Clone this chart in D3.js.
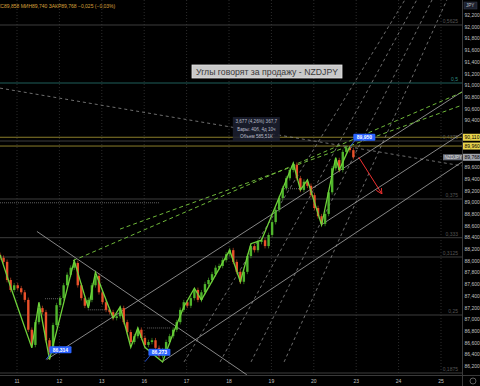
<!DOCTYPE html>
<html>
<head>
<meta charset="utf-8">
<script src="https://cdn.jsdelivr.net/npm/d3@7"></script>
<style>
  html, body { margin: 0; padding: 0; background: #000; }
  svg { display: block; font-family: "Liberation Sans", Arial, sans-serif; }
</style>
</head>
<body>
<script>
// --- data ---
const dayLabels = ['11', '12', '13', '16', '17', '18', '19', '20', '23', '24', '25']
const priceTicks = [86.2, 86.4, 86.6, 86.8, 87.0, 87.2, 87.4, 87.6, 87.8, 88.0, 88.2, 88.4, 88.6,
  88.8, 89.0, 89.2, 89.4, 89.6, 89.8, 90.0, 90.2, 90.4, 90.6, 90.8, 91.0, 91.2, 91.4, 91.6, 91.8, 92.0, 92.2]
const fibLevels = [0.5625, 0.5, 0.4375, 0.375, 0.3333, 0.3125, 0.25, 0.1875]
const fibLabels = ['0,5625', '0,5', '0,4375', '0,375', '0,333', '0,3125', '0,25', '0,1875']

// 2h closes, starting Fri 10th 14:00
const closes = [88.05, 87.98, 87.67, 87.50, 87.58, 87.53, 87.46, 87.33, 86.82, 86.56,
  86.95, 87.19, 87.12, 86.64, 86.44, 86.90, 87.24, 87.36, 87.58, 87.76,
  87.88, 87.96, 87.58, 87.36, 87.23, 87.33, 87.58, 87.74, 87.46, 87.29,
  87.16, 87.12, 87.02, 87.05, 87.19, 86.95, 86.78, 86.61, 86.71, 86.82,
  86.68, 86.56, 86.61, 86.64, 86.51, 86.37, 86.47, 86.61, 86.71, 86.82,
  86.95, 87.16, 87.29, 87.23, 87.36, 87.50, 87.33, 87.46, 87.60, 87.67,
  87.77, 87.88, 87.91, 88.01, 88.11, 88.18, 87.98, 87.81, 87.64, 87.81,
  88.08, 88.25, 88.18, 88.32, 88.35, 88.25, 88.44, 88.66, 88.87, 89.07,
  89.24, 89.41, 89.55, 89.64, 89.41, 89.21, 89.35, 89.28, 89.12, 88.90,
  88.76, 88.63, 88.80, 89.17, 89.58, 89.72, 89.55, 89.86, 89.93, 89.89, 89.77]
const firstOpen = 88.10

// zigzag: [candle index, price]
const zigzag = [[0, 88.10], [3, 87.55], [9, 86.51], [11, 87.29], [14, 86.31], [21, 88.00],
  [25, 87.19], [27, 87.80], [32, 87.02], [34, 87.21], [37, 86.52], [39, 86.85], [41, 86.52],
  [46, 86.27], [49, 86.76], [52, 87.21], [55, 87.53], [57, 87.33], [65, 88.18], [68, 87.64],
  [71, 88.29], [74, 88.35], [83, 89.67], [85, 89.21], [87, 89.38], [91, 88.61], [95, 89.76],
  [96, 89.55], [99, 89.95]]

// drawn tools: [[day, price], [day, price]]
const trendLines = [
  [[0.47, 88.50], [5.42, 86.05]],
  [[0.70, 86.31], [10.5, 90.89]],
  [[3.42, 86.27], [10.5, 89.69]],
  [[7.17, 88.61], [10.5, 90.18]],
]
const greenDashed = [
  [[1.32, 88.00], [10.5, 90.88]],
  [[2.43, 88.54], [10.5, 90.66]],
]
const greyDashed = [
  [[-0.4, 90.95], [10.5, 89.62]],
  [[3.94, 86.27], [9.15, 92.46]],
  [[4.79, 86.27], [9.43, 92.46]],
  [[5.52, 86.27], [9.79, 92.46]],
  [[6.30, 86.27], [10.14, 92.46]],
]
// short dotted marks: [day from, day to, price]
const dottedMarks = [[-0.4, 3.37, 88.99], [0.66, 1.08, 87.35], [1.67, 2.19, 87.16],
  [3.07, 3.61, 86.85], [6.25, 6.67, 89.23]]
const levels = [90.11, 89.96]
const levelLabels = ['90,110', '89,960']
const lastPrice = 89.768
const pivotLabels = [[13, 86.314, '86,314'], [41, 86.273, '86,273'], [99, 89.95, '89,950']]

const W = 480, H = 386
const PLOT_R = 462, PLOT_B = 375

const svg = d3.select('body').append('svg')
  .attr('width', W)
  .attr('height', H)

svg.append('rect').attr('width', W).attr('height', H).attr('fill', '#000')

const x = d3.scaleLinear().domain([0, 10]).range([17, 441])
const y = d3.scaleLinear().domain([86.2, 92.2]).range([366, 15])
const fibY = d3.scaleLinear().domain([0.1875, 0.5625]).range([373, 25])
const ix = i => x(-0.4 + i / 12)

const plot = svg.append('g')
svg.append('clipPath').attr('id', 'clip')
  .append('rect').attr('x', 0).attr('y', 0).attr('width', PLOT_R).attr('height', PLOT_B)
plot.attr('clip-path', 'url(#clip)')

// vertical grid
plot.selectAll('line.vgrid')
  .data(dayLabels)
  .join('line')
    .attr('class', 'vgrid')
    .attr('x1', (d, i) => x(i)).attr('x2', (d, i) => x(i))
    .attr('y1', 0).attr('y2', PLOT_B)
    .attr('stroke', '#2c2c2c')
    .attr('stroke-dasharray', '1,2')

// fib levels
plot.selectAll('line.fib')
  .data(fibLevels)
  .join('line')
    .attr('x1', 0).attr('x2', PLOT_R)
    .attr('y1', d => fibY(d)).attr('y2', d => fibY(d))
    .attr('stroke', d => d === 0.5 ? '#1f5f5a' : '#3d3d3d')
    .attr('stroke-width', 1)

plot.selectAll('text.fib')
  .data(fibLevels)
  .join('text')
    .attr('x', PLOT_R - 4)
    .attr('y', d => fibY(d) - 2)
    .attr('text-anchor', 'end')
    .attr('font-size', 5)
    .attr('fill', d => d === 0.5 ? '#2f8a82' : '#555')
    .text((d, i) => fibLabels[i])

// yellow levels
plot.selectAll('line.lvl')
  .data(levels)
  .join('line')
    .attr('x1', 0).attr('x2', PLOT_R)
    .attr('y1', d => y(d)).attr('y2', d => y(d))
    .attr('stroke', '#8a7d2a')
    .attr('stroke-width', 1)

// dotted marks
plot.append('g')
  .selectAll('line')
  .data(dottedMarks)
  .join('line')
    .attr('x1', d => x(d[0])).attr('x2', d => x(d[1]))
    .attr('y1', d => y(d[2])).attr('y2', d => y(d[2]))
    .attr('stroke', '#8c8c8c')
    .attr('stroke-width', 0.7)
    .attr('stroke-dasharray', '1,1')

// trend lines
const seg = (g, data, stroke, dash, width) => g.append('g')
  .selectAll('line')
  .data(data)
  .join('line')
    .attr('x1', d => x(d[0][0])).attr('y1', d => y(d[0][1]))
    .attr('x2', d => x(d[1][0])).attr('y2', d => y(d[1][1]))
    .attr('stroke', stroke)
    .attr('stroke-width', width)
    .attr('stroke-dasharray', dash)

seg(plot, greyDashed, '#8a8a8a', '3,3', 0.8)
seg(plot, trendLines, '#a8a8a8', null, 0.8)
seg(plot, greenDashed, '#6fb83a', '4,3', 1)

// candles
const candles = closes.map((c, i) => {
  const o = i === 0 ? firstOpen : closes[i - 1]
  return { i, o, c, h: Math.max(o, c) + 0.04, l: Math.min(o, c) - 0.04 }
})

const cg = plot.append('g')
cg.selectAll('line')
  .data(candles)
  .join('line')
    .attr('x1', d => ix(d.i)).attr('x2', d => ix(d.i))
    .attr('y1', d => y(d.h)).attr('y2', d => y(d.l))
    .attr('stroke', d => d.c >= d.o ? '#4fb52c' : '#e8502a')
    .attr('stroke-width', 0.6)

cg.selectAll('rect')
  .data(candles)
  .join('rect')
    .attr('x', d => ix(d.i) - 1.2)
    .attr('width', 2.4)
    .attr('y', d => y(Math.max(d.o, d.c)))
    .attr('height', d => Math.max(0.8, Math.abs(y(d.o) - y(d.c))))
    .attr('fill', d => d.c >= d.o ? '#4fb52c' : '#e8502a')

// zigzag
plot.append('path')
  .datum(zigzag)
  .attr('fill', 'none')
  .attr('stroke', '#6fd23a')
  .attr('stroke-width', 1.3)
  .attr('d', d3.line().x(d => ix(d[0])).y(d => y(d[1])))

// red arrow
const defs = svg.append('defs')
defs.append('marker')
  .attr('id', 'arr')
  .attr('viewBox', '0 0 10 10')
  .attr('refX', 9).attr('refY', 5)
  .attr('markerWidth', 6).attr('markerHeight', 6)
  .attr('orient', 'auto')
  .append('path')
    .attr('d', 'M0,0 L10,5 L0,10')
    .attr('fill', 'none')
    .attr('stroke', '#f03030')
    .attr('stroke-width', 1.5)

plot.append('line')
  .attr('x1', ix(101.5)).attr('y1', y(89.77))
  .attr('x2', x(8.6)).attr('y2', y(89.15))
  .attr('stroke', '#f03030')
  .attr('stroke-width', 1)
  .attr('marker-end', 'url(#arr)')

// pivot labels
const pl = plot.selectAll('g.pivot')
  .data(pivotLabels)
  .join('g')
  .attr('transform', d => `translate(${ix(d[0])},${y(d[1])})`)

pl.append('line')
  .attr('x1', 0).attr('y1', 0)
  .attr('x2', 5).attr('y2', -6)
  .attr('stroke', '#2962ff')
  .attr('stroke-width', 0.8)
pl.append('rect')
  .attr('x', 3.5).attr('y', -13)
  .attr('width', 22).attr('height', 7)
  .attr('rx', 1)
  .attr('fill', '#2962ff')
pl.append('text')
  .attr('x', 14.5).attr('y', -7.7)
  .attr('text-anchor', 'middle')
  .attr('font-size', 5)
  .attr('font-weight', 'bold')
  .attr('fill', '#fff')
  .text(d => d[2])

// measure box
const mb = plot.append('g').attr('transform', `translate(${x(5.09)},${y(90.456)})`)
mb.append('rect')
  .attr('width', 47).attr('height', 24)
  .attr('fill', '#1c2030')
  .attr('opacity', 0.85)
const mbText = ['3,677 (4,26%) 367,7', 'Бары: 40б, 4д 10ч', 'Объем 585,51К']
mb.selectAll('text')
  .data(mbText)
  .join('text')
    .attr('x', 23.5)
    .attr('y', (d, i) => 6 + i * 7.5)
    .attr('text-anchor', 'middle')
    .attr('font-size', 4.6)
    .attr('fill', '#b8bcc8')
    .text(d => d)

// title box
const tb = plot.append('g').attr('transform', 'translate(192,65)')
tb.append('rect')
  .attr('width', 150).attr('height', 13)
  .attr('fill', '#c9c9c9')
  .attr('stroke', '#e6e6e6')
  .attr('stroke-width', 0.8)
tb.append('text')
  .attr('x', 75).attr('y', 10)
  .attr('text-anchor', 'middle')
  .attr('font-size', 9.5)
  .attr('textLength', 142)
  .attr('lengthAdjust', 'spacingAndGlyphs')
  .attr('fill', '#3a3a3a')
  .text('Углы говорят за продажу - NZDJPY')

// header
svg.append('text')
  .attr('x', -10).attr('y', 8)
  .attr('font-size', 5)
  .attr('fill', '#d9a13b')
  .text('МАКС89,858 МИН89,740 ЗАКР89,768 −0,025 (−0,03%)')

// price axis
const ax = svg.append('g')
ax.append('line')
  .attr('x1', PLOT_R + 0.5).attr('x2', PLOT_R + 0.5)
  .attr('y1', 0).attr('y2', H)
  .attr('stroke', '#3a3a3a')

const tagged = levels.concat([lastPrice])
ax.selectAll('text.tick')
  .data(priceTicks.filter(p => tagged.every(v => Math.abs(y(p) - y(v)) > 6)))
  .join('text')
    .attr('x', PLOT_R + 2.5)
    .attr('y', d => y(d) + 2)
    .attr('font-size', 5)
    .attr('fill', '#c0c0c0')
    .text(d => d3.format(',.3f')(d).replace('.', ','))

const tag = (val, text, bg, fg) => {
  const g = ax.append('g').attr('transform', `translate(${PLOT_R + 1},${y(val)})`)
  g.append('rect').attr('x', 0).attr('y', -3.5).attr('width', 18).attr('height', 7).attr('fill', bg)
  g.append('text').attr('x', 1.5).attr('y', 2).attr('font-size', 5).attr('fill', fg).text(text)
}
levels.forEach((v, i) => tag(v, levelLabels[i], '#e8d44d', '#000'))
tag(lastPrice, '89,768', '#a0a4ad', '#000')

const nz = svg.append('g').attr('transform', `translate(${PLOT_R - 19},${y(lastPrice)})`)
nz.append('rect').attr('y', -3).attr('width', 19).attr('height', 6).attr('fill', '#6b6f7a')
nz.append('text').attr('x', 1.5).attr('y', 1.8).attr('font-size', 4.5).attr('fill', '#e0e0e0').text('NZDJPY')

// JPY box
const jb = svg.append('g').attr('transform', `translate(${PLOT_R + 2},2)`)
jb.append('rect').attr('width', 13).attr('height', 7).attr('fill', '#1d2230').attr('stroke', '#3a3f4d').attr('stroke-width', 0.5)
jb.append('text').attr('x', 2).attr('y', 5.3).attr('font-size', 4.5).attr('fill', '#c0c0c0').text('JPY')

// time axis
svg.append('line')
  .attr('x1', 0).attr('x2', W)
  .attr('y1', PLOT_B + 0.5).attr('y2', PLOT_B + 0.5)
  .attr('stroke', '#3a3a3a')

svg.append('g')
  .selectAll('text')
  .data(dayLabels)
  .join('text')
    .attr('x', (d, i) => x(i))
    .attr('y', 383)
    .attr('text-anchor', 'middle')
    .attr('font-size', 5)
    .attr('fill', '#c0c0c0')
    .text(d => d)

svg.append('circle')
  .attr('cx', 473).attr('cy', 381)
  .attr('r', 3)
  .attr('fill', 'none')
  .attr('stroke', '#9a9a9a')
  .attr('stroke-width', 0.6)
</script>
</body>
</html>
